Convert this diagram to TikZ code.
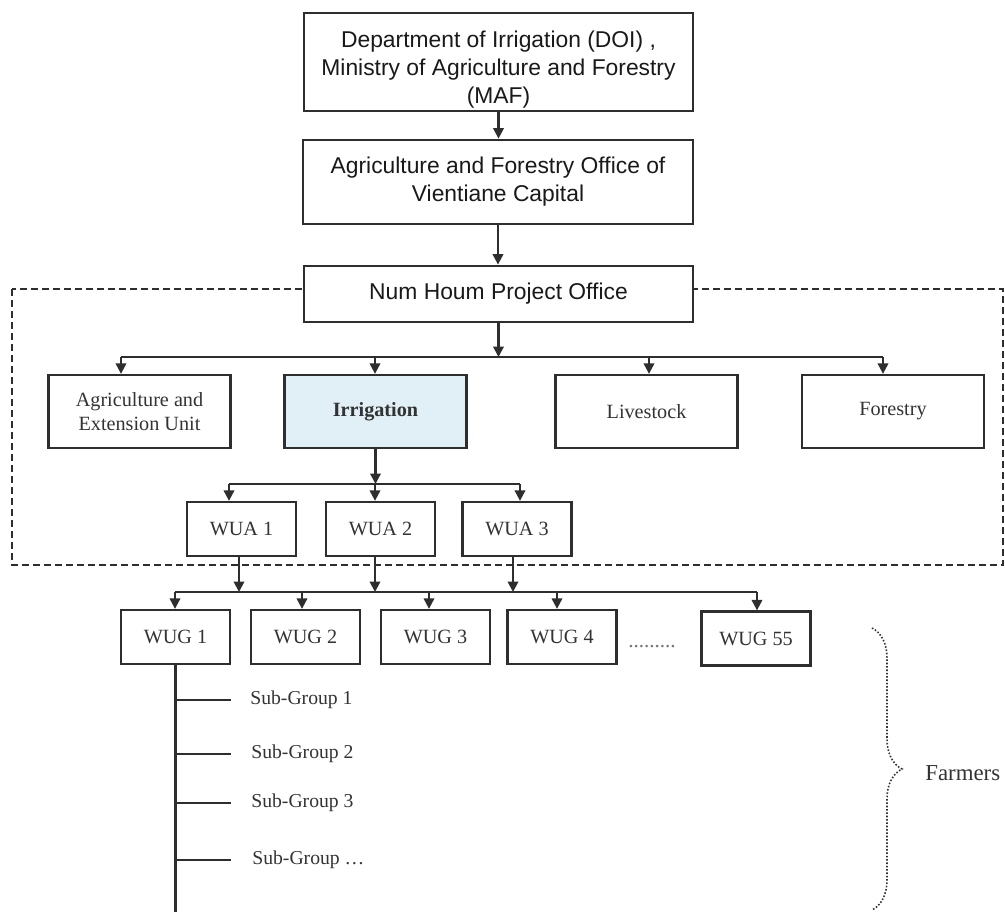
\documentclass[tikz,border=0pt]{standalone}
\usepackage{fontspec}
\setmainfont{Liberation Serif}
\newfontfamily\arialfont{Liberation Sans}
\usetikzlibrary{arrows.meta,decorations.pathreplacing}
\definecolor{LineGray}{HTML}{2E2E2E}
\definecolor{TextGray}{HTML}{333333}
\definecolor{IrrBlue}{HTML}{E1EFF6}
\tikzset{
    topbox/.style={rectangle, draw=LineGray, line width=1.6pt, fill=white, align=center,
                   inner sep=0, font=\arialfont\fontsize{13}{16}\selectfont, text=black!90},
    unitbox/.style={rectangle, draw=LineGray, line width=1.3pt, fill=white, align=center,
                    minimum width=3.64cm, minimum height=1.46cm, inner sep=0,
                    font=\fontsize{11.5}{13.7}\selectfont, text=TextGray},
    wuabox/.style={unitbox, minimum width=2.18cm, minimum height=1.08cm},
    wugbox/.style={unitbox, minimum width=2.18cm, minimum height=1.08cm},
    arr/.style={draw=LineGray, line width=1.2pt, -{Triangle[length=0.21cm, width=0.21cm]}},
    link/.style={draw=LineGray, line width=1.2pt},
    frame/.style={draw=LineGray, line width=1.3pt, dash pattern=on 0.14cm off 0.08cm},
    subgroup/.style={anchor=west, inner sep=0, font=\fontsize{11.2}{13}\selectfont, text=TextGray},
    farmbrace/.style={draw=black!80, line width=0.9pt, densely dotted, decorate,
                      decoration={brace, amplitude=0.6cm}},
}

\begin{document}
\begin{tikzpicture}[x=0.02cm, y=-0.02cm]
        \useasboundingbox (0,0) rectangle (1005,912);
        % Project office frame
        \draw[frame] (12,289) rectangle (1003,565);
        %
        % Ministry levels
        \node[topbox, minimum width=7.78cm, minimum height=1.96cm] (doi) at (498.5,62)
            {\rule{0pt}{0.63cm}Department of Irrigation (DOI) ,\\ Ministry of Agriculture and Forestry\\ (MAF)};
        \node[topbox, minimum width=7.8cm, minimum height=1.68cm] (afo) at (498,182)
            {Agriculture and Forestry Office of\\ Vientiane Capital};
        \node[topbox, minimum width=7.78cm, minimum height=1.12cm] (nhpo) at (498.5,294)
            {Num Houm Project Office};
        \draw[arr] (doi.south) -- (doi.south |- afo.north);
        \draw[arr] (afo.south) -- (afo.south |- nhpo.north);
        %
        %
        % Units
        \node[unitbox] (agri) at (139.5,411.5) {Agriculture and\\ Extension Unit};
        \node[unitbox, fill=IrrBlue] (irr) at (375.5,411.5) {\textbf{Irrigation}};
        \node[unitbox] (live) at (646.5,411.5) {Livestock};
        \node[unitbox] (forest) at (893,411.5) {Forestry};
        \coordinate (d11) at (121,357);
        \coordinate (d12) at (375,357);
        \coordinate (d13) at (649,357);
        \coordinate (d14) at (883,357);
        \draw[arr] (nhpo.south) -- (nhpo.south |- d11);
        \draw[link] (d11) -- (d14);
        \draw[arr] (d11) -- (d11 |- agri.north);
        \draw[arr] (d12) -- (d12 |- irr.north);
        \draw[arr] (d13) -- (d13 |- live.north);
        \draw[arr] (d14) -- (d14 |- forest.north);
        %
        %
        % Water user associations
        \node[wuabox] (wua1) at (241.5,529) {WUA 1};
        \node[wuabox] (wua2) at (380.5,529) {WUA 2};
        \node[wuabox] (wua3) at (517,529) {WUA 3};
        \coordinate (d21) at (229,484);
        \coordinate (d22) at (375,484);
        \coordinate (d23) at (520,484);
        \draw[arr] (irr.south) -- (irr.south |- d22);
        \draw[link] (d21) -- (d23);
        \draw[arr] (d21) -- (d21 |- wua1.north);
        \draw[arr] (d22) -- (d22 |- wua2.north);
        \draw[arr] (d23) -- (d23 |- wua3.north);
        %
        %
        % Water user groups
        \node[wugbox] (wug1) at (175.5,637) {WUG 1};
        \node[wugbox] (wug2) at (305.5,637) {WUG 2};
        \node[wugbox] (wug3) at (435.5,637) {WUG 3};
        \node[wugbox] (wug4) at (562,637) {WUG 4};
        \node[text=black!55, font=\fontsize{12}{14}\selectfont] (dots) at (652,647) {.........};
        \node[wugbox] (wug55) at (756,638.5) {WUG 55};
        \coordinate (d31) at (175,592);
        \coordinate (d32) at (302,592);
        \coordinate (d33) at (429,592);
        \coordinate (d34) at (557,592);
        \coordinate (d35) at (757,592);
        \draw[arr] ([xshift=-0.05cm]wua1.south) -- ([xshift=-0.05cm]wua1.south |- d31);
        \draw[arr] ([xshift=-0.11cm]wua2.south) -- ([xshift=-0.11cm]wua2.south |- d31);
        \draw[arr] ([xshift=-0.08cm]wua3.south) -- ([xshift=-0.08cm]wua3.south |- d31);
        \draw[link] (d31) -- (d35);
        \draw[arr] (d31) -- (d31 |- wug1.north);
        \draw[arr] (d32) -- (d32 |- wug2.north);
        \draw[arr] (d33) -- (d33 |- wug3.north);
        \draw[arr] (d34) -- (d34 |- wug4.north);
        \draw[arr] (d35) -- (d35 |- wug55.north);
        %
        %
        % Sub-groups
        \coordinate (trunkend) at (175,912);
        \node[subgroup] (sg1) at (250,700) {Sub-Group 1};
        \node[subgroup] (sg2) at (251,754) {Sub-Group 2};
        \node[subgroup] (sg3) at (251,803) {Sub-Group 3};
        \node[subgroup] (sg4) at (252,860) {Sub-Group …};
        \draw[link] (wug1.south) -- (wug1.south |- trunkend);
        \draw[link] (sg1.west -| trunkend) -- ([xshift=-0.38cm]sg1.west);
        \draw[link] (sg2.west -| trunkend) -- ([xshift=-0.4cm]sg2.west);
        \draw[link] (sg3.west -| trunkend) -- ([xshift=-0.4cm]sg3.west);
        \draw[link] (sg4.west -| trunkend) -- ([xshift=-0.42cm]sg4.west);
        %
        % Farmers
        \draw[farmbrace] (872,628) -- (872,910);
        \node[anchor=west, inner sep=0, text=TextGray, font=\fontsize{13}{15}\selectfont]
            (farmers) at (925,773) {Farmers};
    \end{tikzpicture}
\end{document}
